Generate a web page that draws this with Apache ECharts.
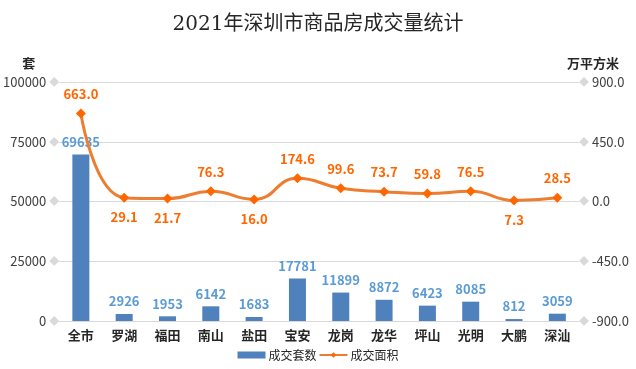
<!DOCTYPE html>
<html><head><meta charset="utf-8">
<script src="https://cdn.jsdelivr.net/npm/echarts@6/dist/echarts.min.js"></script>
<style>html,body{margin:0;padding:0;background:#fff}#c{width:636px;height:369px}</style>
</head><body><div id="c"></div>
<script>
const categories = ['全市','罗湖','福田','南山','盐田','宝安','龙岗','龙华','坪山','光明','大鹏','深汕'];
const units = [69635,2926,1953,6142,1683,17781,11899,8872,6423,8085,812,3059];
const area = [663.0,29.1,21.7,76.3,16.0,174.6,99.6,73.7,59.8,76.5,7.3,28.5];
const areaLabelPos = ['top','bottom','bottom','top','bottom','top','top','top','top','top','bottom','top'];
const leftTicks = [0,25000,50000,75000,100000];
const rightTicks = [-900,-450,0,450,900];

const font = '"Noto Sans CJK SC","Noto Sans",sans-serif';
const chart = echarts.init(document.getElementById('c'));
chart.setOption({
  animation:false,
  textStyle:{fontFamily:font},
  title:{text:'2021年深圳市商品房成交量统计',left:'center',top:10,
    textStyle:{fontFamily:'"DejaVu Serif","Liberation Serif","Noto Sans CJK SC",serif',fontSize:20,fontWeight:'normal',color:'#262626'}},
  legend:{bottom:3,left:'center',itemGap:2,itemWidth:28,itemHeight:7,
    textStyle:{fontSize:12,color:'#262626',fontFamily:font,padding:[0,0,0,-2]},
    data:[{name:'成交套数',icon:'rect'},{name:'成交面积'}]},
  grid:{left:54,right:57,top:82,bottom:48},
  xAxis:{type:'category',data:categories,
    axisLine:{lineStyle:{color:'#D9D9D9'}},axisTick:{show:false},
    axisLabel:{color:'#262626',fontSize:13,fontWeight:'bold',margin:8,interval:0}},
  yAxis:[
    {type:'value',min:leftTicks[0],max:leftTicks[leftTicks.length-1],interval:25000,
     name:'套',nameLocation:'end',nameGap:12,nameTextStyle:{fontWeight:'bold',fontSize:13,color:'#262626',align:'right',padding:[0,24,0,0]},
     axisLine:{show:false},axisTick:{show:false},
     splitLine:{lineStyle:{color:'#D9D9D9'}},
     axisLabel:{margin:0,fontSize:13,color:'#404040',formatter:v=>v+' {d|◆}',rich:{d:{color:'#D9D9D9',fontSize:10}}}},
    {type:'value',min:rightTicks[0],max:rightTicks[rightTicks.length-1],interval:450,
     name:'万平方米',nameLocation:'end',nameGap:12,nameTextStyle:{fontWeight:'bold',fontSize:13,color:'#262626',align:'left',padding:[0,0,0,-12]},
     axisLine:{show:false},axisTick:{show:false},splitLine:{show:false},
     axisLabel:{margin:0,fontSize:13,color:'#404040',formatter:v=>'{d|◆} '+v.toFixed(1),rich:{d:{color:'#D9D9D9',fontSize:10}}}}
  ],
  series:[
    {name:'成交套数',type:'bar',data:units,barWidth:17,yAxisIndex:0,
     itemStyle:{color:'#4F81BD'},
     label:{show:true,position:'top',color:'#5B9BD5',fontWeight:'bold',fontSize:13,distance:6}},
    {name:'成交面积',type:'line',yAxisIndex:1,smooth:0.5,
     data:area.map((v,i)=>({value:v,label:{position:areaLabelPos[i]}})),
     symbol:'diamond',symbolSize:10,
     lineStyle:{color:'#ED7D31',width:3},
     itemStyle:{color:'#FF6600'},
     label:{show:true,color:'#FF6600',fontWeight:'bold',fontSize:13,distance:8,formatter:p=>p.value.toFixed(1)}}
  ]
});
</script></body></html>
